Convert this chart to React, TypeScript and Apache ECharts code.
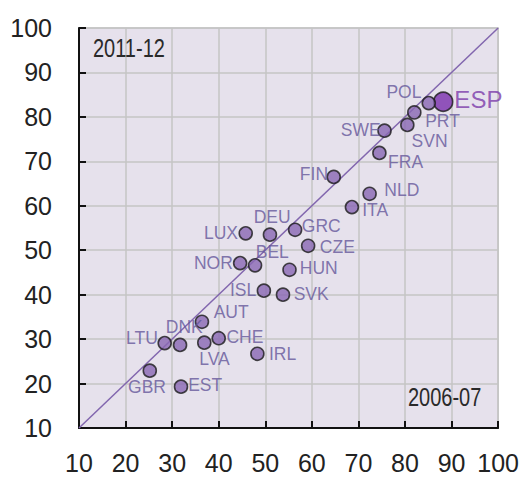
import React, { useEffect, useRef } from "react";
import * as echarts from "echarts";

const countries = ["ESP","POL","PRT","SVN","SWE","FRA","FIN","NLD","ITA","GRC","CZE","HUN","SVK","IRL","LUX","DEU","NOR","BEL","ISL","AUT","DNK","CHE","LVA","LTU","GBR","EST"];
const values2006 = [88.2,85.1,82.0,80.5,75.6,74.5,64.7,72.4,68.6,56.4,59.2,55.2,53.8,48.3,45.8,51.0,44.6,47.8,49.7,36.4,31.7,40.0,36.9,28.4,25.2,31.9];
const values2011 = [83.4,83.1,81.0,78.2,76.9,71.9,66.5,62.7,59.7,54.6,51.0,45.6,40.0,26.7,53.8,53.5,47.1,46.6,40.9,33.9,28.7,30.2,29.2,29.1,22.9,19.3];
const axisTicks = [10,100,10]; // min, max, interval
const periodX = "2006-07";
const periodY = "2011-12";
const highlight = "ESP";

// label offsets (px) of label centre relative to each dot centre
const labelOffsets: Record<string, [number, number]> = {
  ESP:[36,-1], POL:[-24,-10], PRT:[29,9], SVN:[23,17], SWE:[-23,0], FRA:[27,10],
  FIN:[-19,-2], NLD:[33,-3], ITA:[24,4], GRC:[27,-3], CZE:[30,2], HUN:[30,-1],
  SVK:[29,0], IRL:[26,1], LUX:[-24,0], DEU:[3,-17], NOR:[-26,1], BEL:[18,-13],
  ISL:[-20,0], AUT:[30,-9], DNK:[5,-17], CHE:[27,0], LVA:[11,17], LTU:[-22,-4],
  GBR:[-2,17], EST:[25,-1],
};

const sans = "'Liberation Sans', Arial, sans-serif";

export default function App() {
  const ref = useRef<HTMLDivElement>(null);
  useEffect(() => {
    if (!ref.current) return;
    const chart = echarts.init(ref.current, undefined, { renderer: "svg" });
    const [mn, mx, iv] = axisTicks;
    const pts = countries.map((c, i) => {
      const isH = c === highlight;
      const size = isH ? 19 : 13;
      const [dx, dy] = labelOffsets[c];
      return {
        name: c,
        value: [values2006[i], values2011[i]],
        symbolSize: size,
        itemStyle: { color: isH ? "#7a2fae" : "#8a68b4", borderColor: "#1a1a1a", borderWidth: 1.6 },
        label: {
          show: true,
          position: [size / 2 + dx, size / 2 + dy],
          align: "center",
          verticalAlign: "middle",
          formatter: c,
          color: isH ? "#7b3aaa" : "#64569a",
          fontSize: isH ? 24 : 17.5,
          fontFamily: sans,
        },
      };
    });
    const axisCommon = {
      type: "value",
      min: mn,
      max: mx,
      interval: iv,
      axisLine: { show: true, lineStyle: { color: "#111", width: 2 } },
      axisTick: { show: true, inside: true, length: 7, lineStyle: { color: "#111", width: 2 } },
      splitLine: { show: true, lineStyle: { color: "#c4c4c4", width: 1.5 } },
      axisLabel: { color: "#222", fontSize: 25, fontFamily: sans },
    };
    chart.setOption({
      animation: false,
      backgroundColor: "#ffffff",
      grid: { left: 79, right: 22, top: 28, bottom: 49, show: true, backgroundColor: "#e6e1ec", borderColor: "#c4c4c4", borderWidth: 1.5 },
      xAxis: { ...axisCommon, axisLabel: { ...axisCommon.axisLabel, margin: 22 } },
      yAxis: { ...axisCommon, axisLabel: { ...axisCommon.axisLabel, margin: 27 } },
      series: [
        {
          type: "line",
          data: [[mn, mn], [mx, mx]],
          symbol: "none",
          silent: true,
          lineStyle: { color: "#8266ae", width: 1.5 },
          z: 1,
        },
        {
          type: "scatter",
          data: pts,
          z: 3,
          labelLayout: { hideOverlap: false },
        },
      ],
      graphic: [
        { type: "text", x: 93, y: 36, scaleX: 0.8, style: { text: periodY, fontSize: 25, fontFamily: sans, fill: "#2a2a2a" }, z: 10 },
        { type: "text", x: 408, y: 385, scaleX: 0.8, style: { text: periodX, fontSize: 25, fontFamily: sans, fill: "#2a2a2a" }, z: 10 },
      ],
    });
    return () => chart.dispose();
  }, []);
  return <div ref={ref} style={{ position: "fixed", left: 0, top: 0, width: 522, height: 477 }} />;
}
